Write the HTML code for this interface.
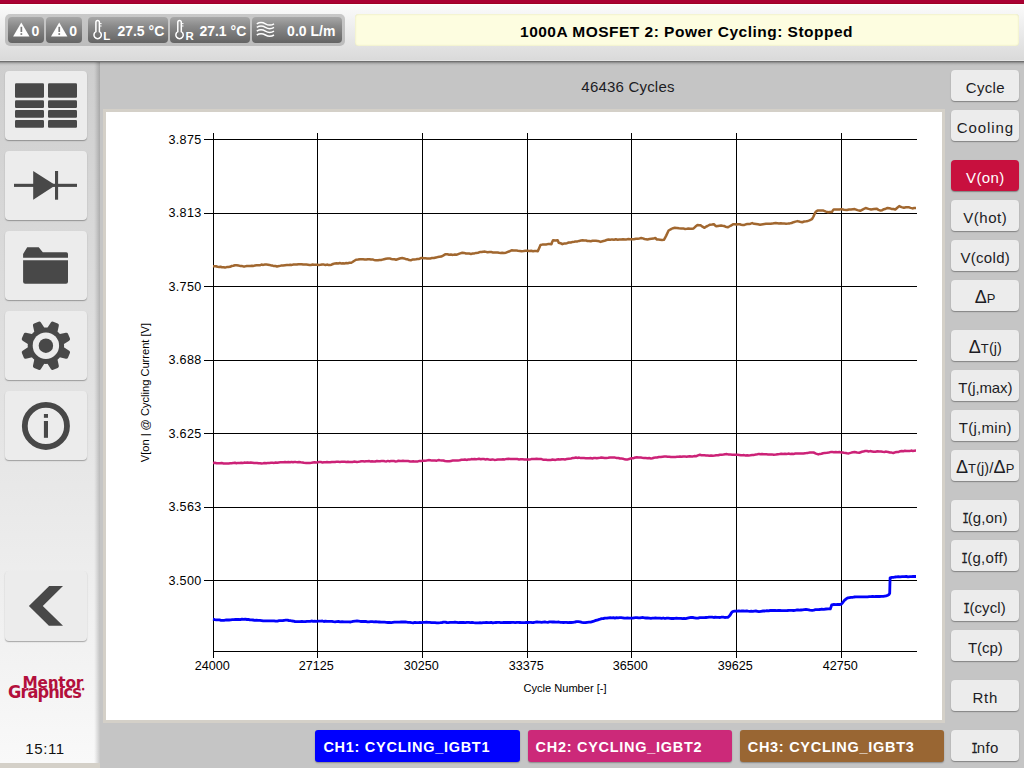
<!DOCTYPE html>
<html><head><meta charset="utf-8"><title>Power Cycling</title>
<style>
*{box-sizing:border-box;margin:0;padding:0}
html,body{width:1024px;height:768px;overflow:hidden;background:#c5c5c5;font-family:"Liberation Sans",sans-serif;color:#111}
.abs{position:absolute}
#redbar{left:0;top:0;width:1024px;height:4px;background:linear-gradient(#aa0034 70%,#9f0026 76%)}
#header{left:0;top:4px;width:1024px;height:58px;background:linear-gradient(#fff 0,#fff 1px,#fbfbfb 1px,#dadada 56px,#e4e4e4 56px,#e4e4e4 57px,#707070 57px)}
#hshadow{left:0;top:62px;width:1024px;height:4px;background:linear-gradient(rgba(0,0,0,.32),rgba(0,0,0,.13) 37%,rgba(0,0,0,.05) 62%,rgba(0,0,0,0))}
#sidebar{left:0;top:62px;width:100px;height:701px;background:linear-gradient(#cecece,#f9f9f9)}
#sbshadow{left:94px;top:62px;width:6px;height:701px;background:linear-gradient(to right,rgba(0,0,0,0),rgba(0,0,0,.05) 30%,rgba(0,0,0,.2))}
#sbline{display:none}
#sbbot{left:0;top:763px;width:100px;height:5px;background:#d4d0c8}
.logo{color:#b3103c;font-family:"DejaVu Sans","Liberation Sans",sans-serif;font-weight:bold;line-height:20px;white-space:nowrap}
.sub{font-size:11.5px;top:4.8px}
#statgrp{left:5px;top:14px;width:340px;height:32px;background:linear-gradient(#c8c8c8,#bcbcbc);border-radius:5px}
.st{position:absolute;top:17px;height:26px;border-radius:4px;background:linear-gradient(#a8a8a8,#8a8a8a 35%,#646464);color:#fff;font-weight:bold;font-size:14px;line-height:28px;white-space:nowrap}
#msg{left:355px;top:14px;width:664px;height:32px;background:#fdfde0;box-shadow:inset 0 0 2px rgba(150,150,60,.3);border-radius:3.5px;text-align:center;font-weight:bold;font-size:15.5px;letter-spacing:.48px;line-height:36px;color:#000;padding-right:1px}
.sb{position:absolute;left:4.5px;width:82px;height:69.6px;background:#ececec;border-radius:4px;box-shadow:0 1px 1.2px rgba(0,0,0,.32)}
.rb{position:absolute;left:951.4px;width:67.8px;height:31.4px;margin-top:-.4px;background:#ececec;border-radius:4px;box-shadow:0 1px 1.2px rgba(0,0,0,.35);text-align:center;font-size:15px;line-height:35.4px;color:#1c1c24;white-space:nowrap;letter-spacing:.3px}
.rb .d{font-size:18px;letter-spacing:0;line-height:20px}
.rb .s{font-size:13px;letter-spacing:.2px}
.rb .p{font-size:14.5px;letter-spacing:0}
.I{display:inline-block;font-family:"Liberation Mono",monospace;transform:scaleX(.74);width:9px;margin:0 -1.9px 0 -2.4px;letter-spacing:0;-webkit-text-stroke:.3px currentColor}
.rb.on{background:#c8103e;color:#fff}
.ch{position:absolute;top:729.6px;height:32px;border-radius:3px;color:#fff;font-weight:bold;font-size:14.5px;letter-spacing:.72px;line-height:35.6px;padding-left:8px;box-shadow:0 1px 1.5px rgba(0,0,0,.3);white-space:nowrap}
#chart{left:103px;top:109px;width:842px;height:614px;background:#fff;border:3px solid #d4d0c8}
#title{left:328px;top:76.7px;width:600px;text-align:center;font-size:15px;letter-spacing:.2px;line-height:20px;color:#1c1c24}
#clock{left:1px;top:738.6px;width:88px;text-align:center;font-size:15px;letter-spacing:.6px;line-height:20px;color:#111}
</style></head><body>
<div class="abs" id="redbar"></div>
<div class="abs" id="header"></div>
<div class="abs" id="sidebar"></div><div class="abs" id="sbshadow"></div><div class="abs" id="sbline"></div><div class="abs" id="sbbot"></div>
<div class="abs" id="hshadow"></div>
<div class="abs" id="statgrp"></div>
<div class="abs" id="msg">1000A MOSFET 2: Power Cycling: Stopped</div>
<div class="abs" id="title">46436 Cycles</div>
<div class="abs" id="chart"></div>
<svg class="abs" style="left:0;top:0" width="1024" height="768" viewBox="0 0 1024 768">
<g shape-rendering="crispEdges" stroke="#000" stroke-width="1" fill="none">
<line x1="213.5" y1="133" x2="213.5" y2="658"/>
<line x1="317.5" y1="133" x2="317.5" y2="658"/>
<line x1="422.5" y1="133" x2="422.5" y2="658"/>
<line x1="527.5" y1="133" x2="527.5" y2="658"/>
<line x1="631.5" y1="133" x2="631.5" y2="658"/>
<line x1="736.5" y1="133" x2="736.5" y2="658"/>
<line x1="841.5" y1="133" x2="841.5" y2="658"/>
<line x1="204" y1="139.5" x2="917" y2="139.5"/>
<line x1="204" y1="213.5" x2="917" y2="213.5"/>
<line x1="204" y1="286.5" x2="917" y2="286.5"/>
<line x1="204" y1="360.5" x2="917" y2="360.5"/>
<line x1="204" y1="433.5" x2="917" y2="433.5"/>
<line x1="204" y1="507.5" x2="917" y2="507.5"/>
<line x1="204" y1="580.5" x2="917" y2="580.5"/>
<line x1="213" y1="651.5" x2="917" y2="651.5"/>
</g>
<g fill="none" stroke-linejoin="round" stroke-linecap="butt">
<path stroke="#a1672f" stroke-width="2.5" d="M213.0 266.2 L214.5 266.3 L216.0 266.3 L217.5 266.8 L219.0 266.9 L220.5 266.8 L222.0 267.3 L223.5 267.3 L225.0 267.6 L226.7 267.1 L228.3 267.1 L230.0 266.8 L231.7 266.0 L233.3 265.8 L235.0 265.3 L236.7 265.2 L238.3 265.5 L240.0 265.9 L241.7 266.0 L243.3 266.4 L245.0 266.4 L246.8 266.0 L248.5 265.9 L250.2 266.0 L252.0 265.8 L253.5 265.9 L255.0 265.5 L256.5 265.3 L258.0 265.2 L259.8 265.3 L261.5 264.6 L263.2 264.9 L265.0 264.5 L266.5 264.6 L268.0 264.7 L269.5 264.9 L271.0 265.4 L272.5 265.6 L274.0 266.1 L275.5 266.0 L277.0 266.5 L279.0 266.1 L281.0 265.6 L283.0 265.5 L285.0 265.3 L286.8 265.1 L288.5 265.1 L290.2 264.7 L292.0 264.9 L293.6 264.5 L295.2 264.4 L296.8 264.6 L298.4 264.3 L300.0 264.2 L301.6 264.2 L303.2 264.5 L304.8 264.5 L306.4 264.6 L308.0 264.8 L309.5 265.0 L311.0 264.9 L312.5 264.6 L314.0 264.8 L315.5 264.7 L317.0 264.7 L318.8 264.9 L320.5 264.8 L322.2 264.5 L324.0 264.6 L325.5 265.0 L327.0 264.6 L328.5 264.9 L330.0 265.0 L331.5 264.7 L333.0 264.0 L335.0 263.4 L336.6 263.2 L338.2 263.4 L339.8 263.1 L341.4 263.4 L343.0 263.3 L344.6 263.4 L346.2 263.1 L347.8 263.2 L349.4 262.8 L351.0 262.8 L352.5 262.0 L354.0 261.0 L356.0 259.8 L358.0 259.6 L360.0 259.2 L361.6 259.2 L363.1 259.2 L364.7 259.4 L366.3 259.5 L367.8 259.2 L369.4 259.2 L370.9 259.5 L372.5 259.4 L374.0 259.9 L376.0 260.2 L378.0 260.2 L379.5 260.0 L381.0 260.0 L382.5 259.6 L384.0 259.2 L385.9 258.8 L387.8 258.6 L389.7 258.4 L391.4 259.0 L393.0 259.3 L394.5 259.2 L396.0 259.7 L397.5 259.2 L399.0 258.7 L400.6 258.2 L402.2 258.1 L404.1 258.4 L406.0 259.2 L407.6 259.3 L409.2 260.0 L410.8 260.2 L412.5 259.6 L414.3 259.4 L416.0 259.2 L417.6 258.9 L419.2 258.9 L420.9 258.1 L422.5 258.1 L424.0 258.2 L425.5 258.3 L427.0 258.4 L428.6 258.5 L430.3 258.4 L431.9 258.1 L433.9 258.0 L436.0 257.5 L437.7 257.1 L439.5 256.8 L441.2 256.6 L443.5 255.4 L445.6 254.2 L447.4 254.2 L449.2 254.7 L451.0 254.6 L453.0 254.9 L454.9 254.5 L456.9 254.7 L459.5 253.6 L462.3 252.7 L464.1 252.9 L466.0 253.5 L467.6 253.5 L469.3 253.6 L470.9 253.9 L472.7 253.6 L474.4 253.4 L476.2 252.9 L478.0 252.7 L479.8 252.1 L481.5 252.1 L483.2 251.8 L485.0 251.6 L487.5 252.2 L489.7 251.9 L491.3 252.1 L492.9 252.4 L494.4 252.4 L496.0 252.4 L497.5 252.5 L499.1 252.8 L500.6 252.9 L502.2 252.7 L503.7 253.1 L505.9 252.7 L508.0 251.8 L509.8 251.2 L511.6 250.3 L513.8 250.6 L516.0 250.4 L517.9 250.8 L519.8 250.9 L521.7 251.2 L523.6 251.0 L525.6 250.7 L527.5 250.8 L529.3 251.0 L531.2 250.8 L533.0 251.2 L534.6 250.9 L536.2 251.0 L537.8 251.2 L539.0 248.5 L540.5 245.0 L542.3 244.6 L544.2 244.6 L546.0 244.5 L547.8 244.1 L549.6 244.0 L551.4 244.2 L552.2 242.0 L553.0 240.3 L555.5 240.6 L557.7 240.3 L558.7 242.7 L560.5 243.2 L562.3 244.2 L563.9 243.6 L565.4 243.5 L567.0 243.2 L568.8 242.5 L570.7 242.6 L572.5 241.9 L574.2 241.8 L575.8 241.4 L577.5 241.4 L579.2 240.9 L581.0 240.6 L582.7 240.3 L584.3 240.4 L585.9 240.4 L587.4 241.0 L589.0 240.9 L590.8 241.2 L592.5 240.8 L594.2 240.8 L596.0 240.8 L597.5 240.9 L599.1 241.3 L600.6 241.9 L602.5 241.3 L604.5 240.8 L606.5 240.0 L608.4 239.5 L610.3 239.8 L612.1 239.4 L614.0 239.7 L615.8 239.3 L617.6 239.8 L619.4 239.5 L621.3 239.5 L623.1 239.2 L625.0 239.4 L626.6 239.4 L628.3 239.0 L630.0 239.3 L631.6 239.2 L633.8 239.2 L636.0 238.7 L637.7 238.7 L639.5 238.4 L641.2 238.0 L642.9 238.4 L644.5 239.0 L646.0 239.2 L647.5 239.5 L649.5 239.0 L651.5 238.8 L653.4 238.6 L655.3 238.0 L656.9 239.5 L658.5 239.6 L660.0 239.7 L662.0 239.9 L663.9 239.8 L665.0 238.0 L666.2 235.6 L668.6 230.5 L671.5 228.8 L673.1 228.2 L674.8 227.8 L676.9 227.9 L679.0 228.3 L681.2 228.6 L683.4 228.6 L685.1 228.9 L686.8 228.8 L688.5 228.6 L690.2 228.7 L691.9 228.7 L693.6 228.4 L695.5 226.6 L697.5 225.0 L699.0 225.3 L700.6 225.3 L702.5 226.7 L704.5 227.8 L706.0 226.7 L707.5 226.0 L710.0 224.7 L712.0 224.5 L713.9 224.2 L715.0 225.4 L716.2 226.2 L717.9 225.9 L719.5 225.7 L721.0 225.5 L722.5 225.8 L724.0 226.0 L725.5 226.7 L728.0 227.3 L730.5 225.8 L733.4 224.2 L735.0 224.2 L736.5 224.4 L738.1 224.2 L739.7 224.2 L741.2 224.7 L742.8 225.0 L744.4 224.9 L745.9 224.3 L747.5 224.0 L749.1 224.0 L750.6 223.7 L752.2 223.1 L754.1 223.8 L756.0 224.0 L758.0 224.3 L760.0 224.7 L761.5 224.4 L763.0 224.2 L764.5 224.0 L766.0 223.8 L767.5 223.8 L769.1 223.7 L770.7 223.8 L772.4 223.6 L774.0 223.2 L775.6 223.1 L777.3 223.3 L779.0 223.5 L780.8 223.2 L782.5 223.5 L784.3 223.6 L786.1 223.7 L787.9 223.6 L789.7 223.4 L791.6 223.0 L793.5 222.2 L795.5 221.6 L797.5 221.1 L800.0 221.8 L802.2 222.2 L804.2 221.5 L806.2 221.2 L807.9 220.9 L809.5 220.3 L812.0 219.2 L813.5 216.5 L814.8 213.4 L816.0 211.5 L817.5 210.6 L820.0 210.6 L821.7 210.5 L823.4 210.6 L826.0 211.6 L828.1 212.3 L830.0 212.1 L832.0 211.9 L832.8 210.5 L833.6 209.5 L835.5 209.6 L837.5 209.4 L839.5 209.5 L841.4 209.1 L844.0 209.7 L846.9 210.0 L849.0 209.6 L851.0 209.4 L852.9 209.2 L854.7 209.1 L857.5 210.1 L860.2 210.8 L863.0 209.3 L865.6 208.0 L868.5 208.9 L871.1 209.5 L874.0 209.0 L876.6 208.7 L878.5 209.8 L880.5 210.6 L882.2 210.2 L884.0 209.2 L885.8 208.7 L887.5 208.0 L889.5 208.3 L891.5 208.9 L893.4 209.0 L895.3 209.5 L897.0 208.0 L899.2 206.1 L901.5 207.1 L903.9 207.7 L906.0 207.3 L908.6 207.2 L910.5 207.9 L912.5 208.4 L914.0 208.1 L916.0 208.0"/>
<path stroke="#cc2277" stroke-width="2.5" d="M213.0 463.0 L214.8 462.8 L216.5 463.3 L218.2 463.3 L220.0 463.2 L221.7 463.0 L223.5 463.5 L225.2 463.6 L227.0 463.5 L228.7 463.4 L230.2 463.2 L231.8 463.3 L233.3 462.9 L234.9 462.8 L236.4 463.3 L238.0 462.9 L239.6 462.9 L241.2 462.8 L242.8 463.0 L244.3 462.6 L245.9 462.8 L247.5 462.5 L249.1 462.8 L250.8 462.6 L252.4 462.7 L254.0 463.0 L255.5 463.0 L257.0 463.0 L258.6 463.3 L260.1 463.2 L261.6 463.4 L263.2 463.3 L264.7 463.0 L266.3 463.3 L267.9 462.9 L269.4 462.9 L271.0 462.8 L272.6 462.8 L274.1 462.9 L275.6 462.5 L277.2 462.7 L278.8 462.4 L280.3 462.3 L281.9 462.3 L283.5 462.3 L285.1 462.0 L286.8 462.2 L288.4 462.0 L290.0 462.2 L291.5 461.9 L293.0 462.3 L294.5 461.9 L296.0 462.1 L297.5 462.2 L299.0 462.0 L300.7 462.3 L302.3 462.4 L304.0 462.7 L306.2 462.9 L308.4 463.0 L309.9 462.9 L311.5 462.8 L313.0 462.5 L314.6 462.2 L316.2 462.4 L317.8 462.3 L319.3 462.1 L320.9 462.1 L322.4 462.4 L323.9 462.2 L325.5 462.2 L327.0 462.1 L328.6 462.2 L330.2 462.2 L331.8 461.9 L333.4 462.0 L335.0 461.9 L336.6 461.8 L338.2 461.8 L339.9 461.9 L341.5 461.8 L343.1 461.8 L344.7 461.8 L346.4 462.1 L348.0 461.8 L349.5 461.9 L351.0 462.0 L352.5 462.0 L354.0 461.6 L355.5 461.7 L357.0 461.9 L358.5 461.8 L360.0 461.6 L361.5 461.3 L363.0 461.3 L364.5 461.5 L366.0 461.2 L367.5 461.3 L369.0 461.1 L370.5 461.4 L372.0 461.3 L373.6 461.4 L375.3 461.5 L376.9 461.0 L378.5 461.3 L380.1 461.3 L381.8 460.9 L383.4 461.1 L384.9 461.3 L386.4 461.4 L387.9 460.9 L389.5 461.4 L391.0 461.0 L392.5 461.1 L394.0 461.1 L395.5 461.4 L397.0 461.2 L398.5 460.8 L400.0 460.9 L401.5 461.0 L403.0 460.8 L404.5 460.9 L406.3 460.9 L408.2 461.1 L410.0 461.4 L411.6 461.6 L413.1 461.2 L414.6 461.6 L416.2 461.6 L417.9 461.4 L419.6 460.9 L421.3 460.9 L423.0 460.8 L424.8 460.7 L426.6 460.5 L428.5 460.1 L430.3 460.2 L431.9 460.6 L433.4 460.6 L435.0 460.5 L436.7 460.7 L438.3 460.1 L440.0 460.3 L441.7 460.4 L443.3 460.5 L445.0 461.0 L447.2 461.3 L449.4 461.2 L451.0 460.9 L452.7 460.6 L454.4 460.6 L456.0 460.4 L457.9 460.5 L459.7 460.3 L461.5 459.8 L463.4 459.8 L465.0 459.5 L466.6 459.9 L468.2 459.6 L469.8 459.6 L471.4 459.1 L473.0 459.3 L474.5 459.0 L476.1 459.3 L477.6 459.1 L479.1 458.8 L480.7 459.2 L482.2 458.9 L483.9 459.1 L485.6 459.4 L487.3 459.1 L489.0 459.5 L490.8 459.8 L492.6 459.4 L494.4 459.9 L496.2 459.8 L497.9 459.6 L499.6 459.4 L501.3 459.4 L503.0 459.2 L504.8 459.4 L506.6 458.9 L508.5 458.8 L510.3 458.9 L512.0 459.0 L513.8 458.9 L515.5 459.0 L517.3 459.1 L519.0 459.4 L520.8 459.2 L522.6 459.3 L524.3 459.4 L526.1 459.4 L527.9 459.6 L529.6 459.6 L531.3 459.1 L533.0 459.1 L534.8 459.0 L536.6 458.8 L538.4 458.9 L539.9 459.1 L541.5 459.1 L543.0 459.7 L544.6 459.7 L546.2 459.7 L547.8 460.1 L549.3 460.1 L550.9 459.9 L552.4 459.6 L553.9 459.7 L555.5 459.9 L557.0 459.5 L558.6 459.2 L560.2 459.6 L561.8 459.3 L563.4 459.2 L565.0 459.4 L566.6 459.1 L568.8 458.7 L571.0 458.4 L572.6 458.1 L574.3 457.9 L575.9 457.5 L577.5 457.9 L579.1 457.6 L580.8 458.1 L582.4 458.1 L584.0 458.1 L585.7 458.2 L587.3 458.2 L589.0 458.2 L590.6 458.1 L592.3 458.4 L593.8 458.1 L595.4 458.0 L596.9 458.3 L598.4 457.9 L599.9 457.8 L601.5 457.6 L603.0 457.8 L604.7 458.0 L606.5 457.9 L608.2 457.8 L609.9 457.5 L611.7 457.4 L613.4 457.5 L615.0 457.6 L616.7 458.0 L618.4 458.0 L620.0 458.5 L621.5 458.6 L623.0 458.7 L624.5 459.3 L626.0 459.5 L627.5 459.4 L629.0 459.1 L630.5 458.5 L632.0 458.3 L633.6 458.2 L635.3 457.5 L636.9 457.3 L638.7 457.4 L640.5 457.4 L642.2 457.8 L644.0 458.0 L645.7 458.1 L647.5 458.2 L649.2 458.1 L650.9 458.4 L652.4 458.2 L654.0 457.7 L655.5 457.6 L657.0 457.5 L658.9 457.0 L660.8 457.0 L662.7 456.8 L664.4 456.6 L666.0 456.6 L667.7 456.8 L669.3 456.8 L671.0 457.0 L672.5 457.0 L674.0 456.9 L675.5 456.9 L677.0 456.8 L678.5 456.7 L680.0 456.5 L681.6 456.7 L683.2 456.4 L684.8 456.4 L686.4 456.8 L688.0 456.5 L689.7 456.2 L691.4 456.5 L693.0 456.4 L694.7 456.0 L696.4 456.2 L698.0 455.4 L699.9 454.8 L701.4 455.2 L703.0 455.3 L704.5 455.3 L706.0 455.4 L707.7 455.6 L709.4 455.8 L711.1 455.5 L712.8 455.8 L714.6 455.6 L716.4 455.3 L718.2 455.3 L720.0 454.8 L721.7 454.8 L723.5 454.6 L725.2 454.3 L726.9 454.1 L728.7 454.5 L730.5 454.6 L732.2 454.7 L734.0 454.8 L735.7 454.8 L737.5 454.8 L739.2 455.0 L740.9 455.3 L742.5 455.2 L744.0 455.1 L745.6 455.5 L747.2 455.3 L748.7 455.4 L750.3 455.3 L752.2 455.1 L754.1 454.9 L756.0 454.5 L757.5 454.3 L759.0 453.9 L760.5 454.2 L762.0 453.9 L763.5 454.2 L765.0 454.2 L766.5 454.3 L768.0 454.4 L769.9 454.6 L771.8 454.4 L773.7 454.8 L775.9 454.6 L778.0 454.2 L779.7 454.0 L781.4 453.7 L783.1 453.9 L784.9 453.7 L786.7 454.0 L788.4 453.6 L790.2 453.9 L792.0 453.7 L793.6 453.9 L795.3 453.6 L797.0 453.5 L798.6 453.5 L800.2 453.6 L801.9 453.4 L803.4 453.4 L805.0 453.2 L806.5 453.1 L808.0 452.9 L809.9 452.5 L811.7 452.4 L813.6 452.5 L816.0 453.6 L818.3 454.4 L819.9 453.9 L821.4 453.8 L823.0 453.3 L824.9 452.9 L826.9 452.8 L828.8 452.5 L830.5 452.1 L832.3 452.1 L834.0 452.3 L835.8 452.1 L837.6 452.2 L839.4 452.0 L840.9 452.4 L842.5 452.6 L844.0 452.8 L845.6 452.9 L847.1 453.2 L848.7 453.4 L851.5 452.6 L853.0 452.3 L854.6 452.0 L857.0 452.5 L859.3 452.7 L862.0 451.8 L863.5 451.4 L865.1 451.1 L866.8 450.9 L868.5 451.5 L870.3 451.1 L872.0 451.4 L873.8 451.7 L875.6 451.8 L877.4 451.3 L879.2 451.6 L881.0 451.6 L882.7 451.8 L884.5 451.9 L886.2 451.6 L888.1 452.0 L890.0 452.5 L891.6 452.6 L893.3 453.0 L895.1 452.3 L897.0 452.0 L898.6 451.9 L900.3 451.3 L901.8 451.0 L903.4 451.2 L904.9 450.8 L906.5 451.0 L908.0 450.9 L909.6 451.1 L911.2 450.6 L912.8 450.9 L914.4 450.7 L916.0 450.6"/>
<path stroke="#0202fb" stroke-width="2.8" d="M213.0 619.2 L214.7 619.6 L216.3 619.8 L218.0 619.9 L219.5 619.9 L221.0 620.3 L222.5 620.3 L224.0 620.4 L225.7 620.0 L227.3 619.9 L229.0 620.0 L230.7 619.9 L232.3 619.7 L234.0 619.7 L235.6 619.4 L237.2 619.5 L238.8 619.4 L240.4 619.6 L242.0 619.1 L243.6 619.4 L245.2 619.2 L246.8 619.5 L248.3 619.3 L249.9 619.9 L251.4 619.9 L253.0 620.0 L254.7 620.3 L256.4 620.1 L258.2 620.3 L259.9 620.4 L261.6 620.6 L263.2 620.9 L264.8 620.8 L266.4 620.8 L268.0 620.9 L269.5 620.9 L271.0 620.9 L272.6 620.8 L274.1 620.9 L275.6 621.1 L277.4 621.1 L279.2 620.7 L281.0 620.6 L282.6 620.7 L284.1 620.3 L285.7 620.2 L287.3 620.2 L288.9 620.5 L290.4 620.6 L292.0 621.0 L293.6 621.1 L295.1 621.6 L296.7 621.6 L298.4 621.7 L300.1 621.7 L301.9 621.5 L303.6 621.6 L305.3 621.6 L307.0 621.3 L308.5 621.3 L310.1 621.4 L311.6 621.0 L313.2 621.3 L314.7 621.1 L316.3 621.3 L317.8 621.1 L319.3 621.2 L320.9 621.1 L322.4 621.0 L323.9 621.5 L325.5 621.2 L327.0 621.4 L328.6 621.4 L330.2 621.4 L331.8 621.4 L333.4 621.7 L335.0 621.8 L336.6 621.6 L338.5 621.5 L340.3 621.8 L342.1 621.7 L344.0 621.8 L345.6 621.9 L347.3 621.8 L349.0 621.8 L350.6 622.0 L353.0 621.4 L355.3 621.1 L357.0 621.0 L358.8 621.1 L360.5 621.5 L362.3 621.4 L364.0 621.5 L365.7 621.4 L367.3 621.8 L369.0 621.9 L370.7 621.7 L372.3 621.6 L374.0 621.8 L375.8 621.7 L377.5 621.8 L379.2 622.0 L381.0 622.2 L382.8 622.1 L384.6 622.2 L386.3 622.3 L388.1 622.5 L389.7 622.5 L391.3 622.6 L392.8 622.4 L394.4 622.2 L396.0 622.2 L397.7 622.1 L399.4 622.1 L401.1 622.0 L402.8 622.0 L404.5 622.0 L406.2 622.0 L408.0 622.4 L409.8 622.4 L411.5 622.7 L413.2 622.9 L414.9 622.4 L416.6 622.6 L418.3 622.6 L420.0 622.5 L421.6 622.6 L423.2 622.3 L424.8 622.3 L426.4 622.2 L428.0 622.3 L429.8 622.4 L431.5 622.6 L433.2 622.6 L435.0 622.7 L436.8 622.9 L438.5 622.8 L440.2 622.7 L442.0 622.5 L443.6 622.2 L445.2 622.2 L446.8 622.5 L448.4 622.6 L450.0 622.4 L451.7 622.4 L453.4 622.4 L455.0 622.1 L456.7 622.3 L458.4 622.6 L460.0 622.5 L461.7 622.5 L463.4 622.3 L465.2 622.6 L466.9 622.4 L468.7 622.4 L470.5 622.7 L472.1 622.5 L473.7 622.7 L475.3 622.8 L476.9 622.9 L478.5 622.8 L480.0 622.7 L481.6 622.8 L483.2 622.6 L484.8 622.6 L486.4 622.4 L488.0 622.6 L489.6 622.7 L491.2 622.4 L492.8 622.8 L494.4 622.6 L496.0 622.5 L497.6 622.4 L499.2 622.4 L500.8 622.6 L502.4 622.6 L504.0 622.3 L505.6 622.5 L507.2 622.3 L508.8 622.5 L510.4 622.5 L512.0 622.4 L513.6 622.4 L515.2 622.6 L516.8 622.3 L518.3 622.4 L519.9 622.5 L521.5 622.7 L523.1 622.6 L524.7 622.7 L526.3 622.5 L527.9 622.5 L529.4 622.3 L530.9 622.3 L532.4 622.6 L534.0 622.5 L535.5 622.2 L537.0 622.0 L538.5 622.2 L540.0 622.2 L541.6 622.3 L543.1 622.1 L544.7 622.0 L546.2 622.2 L547.8 622.3 L549.4 621.9 L550.9 621.8 L552.5 622.0 L554.1 622.0 L555.7 622.1 L557.2 622.2 L558.8 622.0 L560.4 622.4 L562.0 622.3 L563.5 622.5 L565.1 622.4 L566.6 622.3 L568.1 622.7 L569.7 622.4 L571.2 622.5 L573.1 622.4 L575.0 622.0 L576.6 621.7 L578.3 621.6 L580.1 621.8 L582.0 622.3 L583.6 622.6 L585.3 622.7 L587.1 622.3 L589.0 622.2 L590.6 622.1 L592.3 621.6 L593.9 621.1 L595.4 620.5 L597.0 620.2 L598.6 619.6 L600.1 619.2 L601.7 618.7 L603.4 618.5 L605.0 618.2 L606.9 618.2 L608.7 617.8 L610.2 617.6 L611.8 617.8 L613.4 617.7 L614.9 618.1 L616.5 617.7 L618.0 617.9 L619.6 617.7 L621.2 617.7 L622.8 617.9 L624.3 618.2 L625.9 618.2 L627.5 618.0 L629.1 618.1 L630.8 618.1 L632.4 618.1 L634.0 617.8 L635.5 617.7 L637.0 617.6 L638.5 617.9 L640.0 617.8 L641.5 617.6 L643.0 617.5 L644.5 617.9 L646.0 618.0 L647.6 618.0 L649.3 618.1 L650.9 618.3 L652.4 618.2 L653.9 618.1 L655.5 618.0 L657.0 618.1 L658.5 618.1 L660.0 618.2 L661.7 618.4 L663.3 618.0 L665.0 618.5 L666.7 618.1 L668.3 618.2 L670.0 618.3 L671.6 618.5 L673.2 618.5 L674.8 618.3 L676.4 618.2 L678.0 618.4 L679.5 618.4 L681.0 618.4 L682.6 618.7 L684.1 618.4 L685.6 618.6 L688.5 617.9 L691.1 617.3 L692.8 617.5 L694.5 617.8 L696.3 618.1 L698.1 618.1 L699.7 617.7 L701.4 617.7 L703.0 617.6 L704.5 617.7 L706.0 617.5 L707.5 617.3 L709.1 617.1 L710.7 617.1 L712.2 617.1 L713.8 617.5 L715.4 617.2 L717.0 617.3 L718.5 617.4 L720.1 617.5 L721.6 617.2 L723.2 617.2 L724.7 617.5 L726.3 617.4 L727.8 617.3 L729.0 616.4 L730.2 615.0 L731.3 613.0 L732.5 611.6 L734.5 611.2 L737.2 611.1 L738.8 611.0 L740.3 611.2 L741.9 611.0 L743.4 611.0 L745.0 611.1 L746.6 610.9 L748.1 611.2 L749.7 611.3 L751.3 611.2 L752.8 611.3 L754.4 611.1 L755.9 611.0 L757.5 611.3 L759.0 611.6 L761.0 611.3 L763.0 611.0 L765.0 611.0 L766.9 610.6 L768.5 610.8 L770.2 610.5 L771.8 610.4 L773.5 610.5 L775.1 610.5 L776.7 610.7 L778.4 610.4 L780.0 610.5 L781.5 610.6 L783.0 610.6 L784.5 610.6 L786.0 610.6 L787.5 610.5 L789.0 610.3 L790.5 610.3 L792.0 610.3 L793.5 610.5 L795.0 610.3 L796.5 610.0 L798.0 610.0 L799.5 610.2 L801.0 610.0 L802.6 609.8 L804.2 609.6 L805.9 609.5 L807.5 609.7 L810.0 610.1 L812.2 610.3 L813.8 610.1 L815.4 609.7 L817.0 609.6 L818.5 609.7 L820.1 609.5 L821.6 609.1 L823.8 609.3 L826.0 609.0 L828.1 608.8 L830.3 608.9 L831.0 607.0 L831.7 604.8 L833.9 604.5 L836.0 604.6 L837.7 604.3 L839.4 604.5 L841.1 604.4 L842.8 602.5 L844.6 600.2 L846.3 598.8 L848.1 597.8 L851.0 597.3 L852.5 597.3 L854.0 597.0 L855.8 596.9 L857.5 596.8 L859.2 596.8 L861.0 596.8 L862.6 596.8 L864.3 596.8 L865.9 596.8 L867.6 596.8 L869.2 596.6 L870.9 596.7 L872.6 596.4 L874.3 596.7 L876.0 596.5 L877.8 596.4 L879.6 596.5 L881.5 596.4 L883.3 596.4 L886.0 595.9 L888.0 595.2 L889.2 594.3 L889.7 593.1 L889.9 585.0 L890.1 577.9 L892.0 577.3 L893.5 577.3 L895.0 577.0 L896.7 576.8 L898.3 576.7 L900.0 576.8 L902.2 576.6 L904.4 576.7 L906.3 576.5 L908.1 576.8 L910.0 576.6 L911.5 576.6 L913.0 576.5 L914.5 576.5 L916.0 576.5"/>
</g>
<g font-family="'Liberation Sans',sans-serif" font-size="12.6" fill="#000">
<text x="201.7" y="144" text-anchor="end" letter-spacing="0.35">3.875</text>
<text x="201.7" y="217" text-anchor="end" letter-spacing="0.35">3.813</text>
<text x="201.7" y="291" text-anchor="end" letter-spacing="0.35">3.750</text>
<text x="201.7" y="364" text-anchor="end" letter-spacing="0.35">3.688</text>
<text x="201.7" y="438" text-anchor="end" letter-spacing="0.35">3.625</text>
<text x="201.7" y="511" text-anchor="end" letter-spacing="0.35">3.563</text>
<text x="201.7" y="585" text-anchor="end" letter-spacing="0.35">3.500</text>
<text x="212.3" y="669.7" text-anchor="middle">24000</text>
<text x="316.3" y="669.7" text-anchor="middle">27125</text>
<text x="421.3" y="669.7" text-anchor="middle">30250</text>
<text x="526.3" y="669.7" text-anchor="middle">33375</text>
<text x="630.3" y="669.7" text-anchor="middle">36500</text>
<text x="735.3" y="669.7" text-anchor="middle">39625</text>
<text x="840.3" y="669.7" text-anchor="middle">42750</text>
</g>
<g font-family="'Liberation Sans',sans-serif" font-size="11.1" fill="#000">
<text x="565" y="692" text-anchor="middle">Cycle Number [-]</text>
<text transform="translate(148.5,392.6) rotate(-90)" text-anchor="middle">V[on | @ Cycling Current  [V]</text>
</g>
</svg>
<div class="rb" style="top:70px;letter-spacing:0.3px">Cycle</div>
<div class="rb" style="top:110px;letter-spacing:0.9px">Cooling</div>
<div class="rb on" style="top:160px;letter-spacing:0.35px">V(on)</div>
<div class="rb" style="top:200px;letter-spacing:0.5px">V(hot)</div>
<div class="rb" style="top:240px;letter-spacing:0.3px">V(cold)</div>
<div class="rb" style="top:280px;letter-spacing:0.3px"><span class="d">Δ</span><span class="s">P</span></div>
<div class="rb" style="top:330px;letter-spacing:0.3px"><span class="d">Δ</span><span class="s">T</span><span class="p">(j)</span></div>
<div class="rb" style="top:370px;letter-spacing:-0.1px">T(j,max)</div>
<div class="rb" style="top:410px;letter-spacing:0.3px">T(j,min)</div>
<div class="rb" style="top:450px;letter-spacing:0.3px"><span class="d">Δ</span><span class="s">T</span><span class="p">(j)</span>/<span class="d">Δ</span><span class="s">P</span></div>
<div class="rb" style="top:500px;letter-spacing:0.1px"><span class="I">I</span>(g,on)</div>
<div class="rb" style="top:540px;letter-spacing:0.3px"><span class="I">I</span>(g,off)</div>
<div class="rb" style="top:590px;letter-spacing:0.1px"><span class="I">I</span>(cycl)</div>
<div class="rb" style="top:630px;letter-spacing:-0.1px">T(cp)</div>
<div class="rb" style="top:680px;letter-spacing:0.8px">Rth</div>
<div class="rb" style="top:730px;letter-spacing:0.3px"><span class="I">I</span>nfo</div>
<div class="ch" style="left:315.4px;width:204.7px;background:#0000fe">CH1: CYCLING_IGBT1</div>
<div class="ch" style="left:527.5px;width:204.8px;background:#cc2979">CH2: CYCLING_IGBT2</div>
<div class="ch" style="left:739.7px;width:204.7px;background:#996633">CH3: CYCLING_IGBT3</div>
<div class="sb" style="top:70.6px"></div>
<div class="sb" style="top:150.6px"></div>
<div class="sb" style="top:230.6px"></div>
<div class="sb" style="top:310.6px"></div>
<div class="sb" style="top:390.6px"></div>
<div class="sb" style="top:571.4px"></div>
<svg class="abs" style="left:0;top:62px" width="100" height="706" viewBox="0 62 100 706"><g fill="#484848">
<rect x="15" y="83.2" width="29" height="14.6" rx="1.2"/>
<rect x="15" y="100.2" width="29" height="7.7" rx="1.2"/>
<rect x="15" y="110.1" width="29" height="7.7" rx="1.2"/>
<rect x="15" y="120.1" width="29" height="7.7" rx="1.2"/>
<rect x="48" y="83.2" width="29" height="14.6" rx="1.2"/>
<rect x="48" y="100.2" width="29" height="7.7" rx="1.2"/>
<rect x="48" y="110.1" width="29" height="7.7" rx="1.2"/>
<rect x="48" y="120.1" width="29" height="7.7" rx="1.2"/>
<rect x="14" y="183.8" width="63" height="3.1"/>
<path d="M33.2 171 L55.5 185.35 L33.2 199.7 Z"/>
<rect x="55" y="171" width="3.1" height="28.7"/>
<path d="M23.1 257.7 V254 L27.2 247.2 H38.7 L42.8 252.2 H66.3 Q68 252.2 68 253.9 V257.7 Z"/>
<path d="M23.1 260.2 H68 V281.8 Q68 283.8 66 283.8 H25.1 Q23.1 283.8 23.1 281.8 Z"/>
<circle cx="45.9" cy="345.7" r="18.2"/>
<path transform="translate(45.9 345.7) rotate(22.5)" d="M-5.8 -15 L-4.3 -23.4 Q-4 -25 -2.4 -25 H2.4 Q4 -25 4.3 -23.4 L5.8 -15 Z"/>
<path transform="translate(45.9 345.7) rotate(67.5)" d="M-5.8 -15 L-4.3 -23.4 Q-4 -25 -2.4 -25 H2.4 Q4 -25 4.3 -23.4 L5.8 -15 Z"/>
<path transform="translate(45.9 345.7) rotate(112.5)" d="M-5.8 -15 L-4.3 -23.4 Q-4 -25 -2.4 -25 H2.4 Q4 -25 4.3 -23.4 L5.8 -15 Z"/>
<path transform="translate(45.9 345.7) rotate(157.5)" d="M-5.8 -15 L-4.3 -23.4 Q-4 -25 -2.4 -25 H2.4 Q4 -25 4.3 -23.4 L5.8 -15 Z"/>
<path transform="translate(45.9 345.7) rotate(202.5)" d="M-5.8 -15 L-4.3 -23.4 Q-4 -25 -2.4 -25 H2.4 Q4 -25 4.3 -23.4 L5.8 -15 Z"/>
<path transform="translate(45.9 345.7) rotate(247.5)" d="M-5.8 -15 L-4.3 -23.4 Q-4 -25 -2.4 -25 H2.4 Q4 -25 4.3 -23.4 L5.8 -15 Z"/>
<path transform="translate(45.9 345.7) rotate(292.5)" d="M-5.8 -15 L-4.3 -23.4 Q-4 -25 -2.4 -25 H2.4 Q4 -25 4.3 -23.4 L5.8 -15 Z"/>
<path transform="translate(45.9 345.7) rotate(337.5)" d="M-5.8 -15 L-4.3 -23.4 Q-4 -25 -2.4 -25 H2.4 Q4 -25 4.3 -23.4 L5.8 -15 Z"/>
<circle cx="45.9" cy="345.7" r="13.2" fill="#ececec"/>
<circle cx="45.9" cy="345.7" r="7.2"/>
<circle cx="45.9" cy="425.9" r="21.1" fill="none" stroke="#484848" stroke-width="5.8"/>
<rect x="43.9" y="414" width="4.1" height="3.8"/>
<rect x="43.9" y="421" width="4.1" height="16.8"/>
<path d="M49.2 586 H63 L42.8 605.9 L63 625.8 H48.9 L28.9 605.9 Z"/>
</g></svg>
<div class="abs logo" style="left:22.6px;top:673.2px;font-size:15.3px;letter-spacing:-0.25px">Mentor</div>
<div class="abs logo" style="left:8px;top:682.3px;font-size:18px;letter-spacing:-1px;transform:scaleX(.9);transform-origin:0 50%">Graphics<span style="font-size:3.5px;position:relative;top:-8px;left:1px;letter-spacing:0">&#9679;</span></div>
<div class="st" style="left:8px;width:35.7px"><span class="abs" style="left:23.4px;top:0">0</span></div>
<div class="st" style="left:45.9px;width:36px"><span class="abs" style="left:23.4px;top:0">0</span></div>
<div class="st" style="left:88px;width:79.7px"><span class="abs sub" style="left:15.2px">L</span><span class="abs" style="left:29.4px;top:0">27.5 °C</span></div>
<div class="st" style="left:170px;width:79.8px"><span class="abs sub" style="left:15.4px">R</span><span class="abs" style="left:29.4px;top:0">27.1 °C</span></div>
<div class="st" style="left:252.3px;width:89.7px"><span class="abs" style="left:34.8px;top:0">0.0 L/m</span></div>
<svg class="abs" style="left:0;top:0" width="360" height="60" viewBox="0 0 360 60">
<g transform="translate(0 0)"><path d="M21.3 22.6 L29.5 36.6 H13.1 Z" fill="#fff"/><rect x="20.5" y="26.8" width="1.7" height="5.2" fill="#7a7a7a"/><rect x="20.5" y="33.2" width="1.7" height="1.7" fill="#7a7a7a"/></g>
<g transform="translate(37.9 0)"><path d="M21.3 22.6 L29.5 36.6 H13.1 Z" fill="#fff"/><rect x="20.5" y="26.8" width="1.7" height="5.2" fill="#7a7a7a"/><rect x="20.5" y="33.2" width="1.7" height="1.7" fill="#7a7a7a"/></g>
<g transform="translate(0 0)" fill="none" stroke="#fff" stroke-width="1.5"><path d="M95.9 31.7 V22.2 a1.75 1.75 0 0 1 3.5 0 V31.7 a3.7 3.7 0 1 1 -3.5 0 Z"/><path d="M99.4 23.6 h2.2 M99.4 26 h2.2" stroke-width="1"/></g>
<g transform="translate(81.9 0)" fill="none" stroke="#fff" stroke-width="1.5"><path d="M95.9 31.7 V22.2 a1.75 1.75 0 0 1 3.5 0 V31.7 a3.7 3.7 0 1 1 -3.5 0 Z"/><path d="M99.4 23.6 h2.2 M99.4 26 h2.2" stroke-width="1"/></g>
<path d="M256.8 23.8 q4.2 -2.6 8.6 0 t8.6 0" fill="none" stroke="#fff" stroke-width="1.5"/>
<path d="M256.8 27.4 q4.2 -2.6 8.6 0 t8.6 0" fill="none" stroke="#fff" stroke-width="1.5"/>
<path d="M256.8 31.1 q4.2 -2.6 8.6 0 t8.6 0" fill="none" stroke="#fff" stroke-width="1.5"/>
<path d="M256.8 35 q4.2 -2.6 8.6 0 t8.6 0" fill="none" stroke="#fff" stroke-width="1.5"/>
</svg>
<div class="abs" id="clock">15:11</div>
</body></html>
